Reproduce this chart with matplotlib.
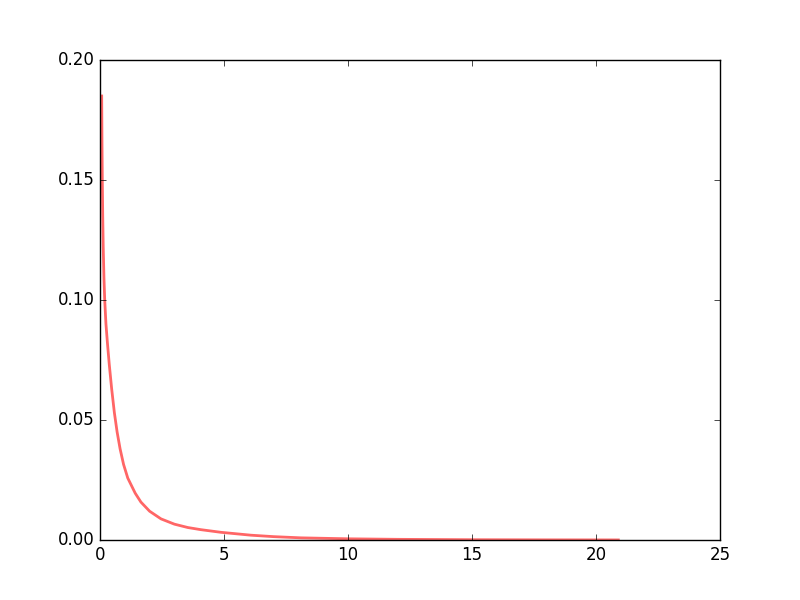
import matplotlib
matplotlib.use('Agg')
import matplotlib.pyplot as plt

# values
x = [0.068, 0.08, 0.093, 0.11, 0.13, 0.16, 0.19, 0.24, 0.30, 0.375, 0.47,
     0.58, 0.69, 0.81, 0.95, 1.12, 1.42, 1.65, 2.0, 2.46, 3.0, 3.54, 4.07,
     4.88, 6.09, 7.0, 8.1, 10.0, 12.0, 15.0, 18.0, 20.9]
y = [0.185, 0.166, 0.150, 0.135, 0.122, 0.109, 0.100, 0.090, 0.082, 0.073,
     0.063, 0.053, 0.045, 0.038, 0.0315, 0.0258, 0.0195, 0.0158, 0.012,
     0.0088, 0.0066, 0.0052, 0.0043, 0.0032, 0.0020, 0.0014, 0.0009, 0.0005,
     0.00028, 0.00012, 0.00006, 0.00003]

plt.style.use('classic')
fig, ax = plt.subplots(figsize=(8, 6))
ax.plot(x, y, 'r-', lw=2, alpha=0.6)
ax.set_xlim(0, 25)
ax.set_ylim(0, 0.2)
fig.savefig('out.png', dpi=100, facecolor='white')
